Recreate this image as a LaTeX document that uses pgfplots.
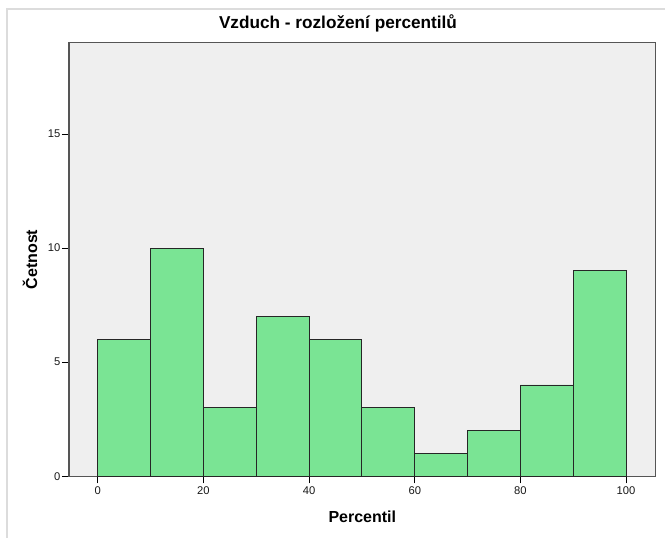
\documentclass[border=0pt]{standalone}
\usepackage{fontspec}
\setmainfont{Liberation Sans}
\usepackage{pgfplots}
\pgfplotsset{compat=1.18}
\definecolor{bgc}{HTML}{EFEFEF}
\definecolor{barc}{HTML}{7AE494}
\definecolor{framec}{HTML}{DCDCDC}
\definecolor{axc}{HTML}{555555}
\begin{document}
\begin{tikzpicture}
\begin{axis}[
  scale only axis,
  width=440pt, height=325.2pt,
  xmin=-5.45, xmax=105.6,
  ymin=0, ymax=19,
  axis background/.style={fill=bgc},
  axis line style={draw=axc, line width=0.9pt},
  xtick={0,20,40,60,80,100},
  ytick={0,5,10,15},
  xtick pos=lower, ytick pos=lower,
  tick align=outside,
  major tick length=5.25pt,
  tick style={draw=black, line width=0.6pt},
  /pgf/number format/assume math mode=true,
  tick label style={font=\fontsize{8.4}{10}\selectfont, text=black!90},
  xticklabel style={inner sep=1pt, yshift=-1pt},
  yticklabel style={inner sep=1pt},
  title={Vzduch - rozložení percentilů},
  title style={at={(axis description cs:0.4585,1.0132)}, anchor=base, font=\bfseries\fontsize{12.9}{14}\selectfont},
  xlabel={Percentil},
  xlabel style={at={(axis description cs:0.5,-0.1055)}, anchor=base, font=\bfseries\fontsize{12}{14}\selectfont},
  ylabel={Četnost},
  ylabel style={at={(axis description cs:-0.0545,0.5)}, anchor=base, rotate=0, font=\bfseries\fontsize{12}{14}\selectfont},
]
\addplot[ybar interval, fill=barc, draw=black!85, line width=0.7pt] coordinates {
  (0,6) (10,10) (20,3) (30,7) (40,6) (50,3) (60,1) (70,2) (80,4) (90,9) (100,9)
};
\end{axis}
\draw[framec, line width=1.5pt] (-46.5pt,-46.3pt) -- (-46.5pt,350.45pt) -- (447pt,350.45pt);
\pgfresetboundingbox
\path (-51.75pt,-46.3pt) rectangle (447pt,357.2pt);
\end{tikzpicture}
\end{document}
